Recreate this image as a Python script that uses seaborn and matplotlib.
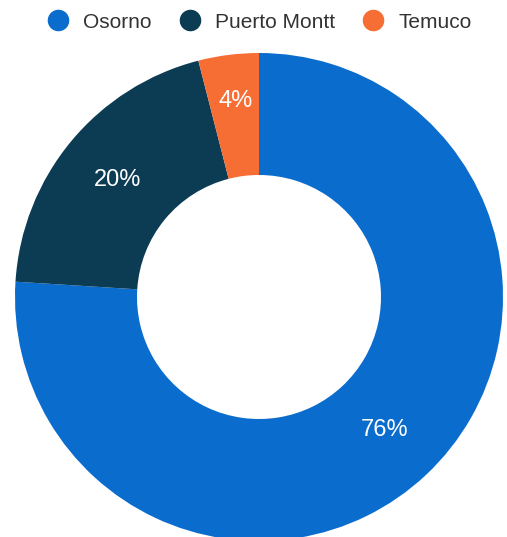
import matplotlib
matplotlib.use("Agg")
import matplotlib.pyplot as plt
from matplotlib.lines import Line2D
import seaborn as sns

categories = ["Osorno", "Puerto Montt", "Temuco"]
values = [76, 20, 4]
colors = ["#0a6ccd", "#0b3c54", "#f76e34"]

sns.set_theme(style="white")
plt.rcParams['font.family'] = ['Liberation Sans', 'DejaVu Sans']

W, H = 507, 537
fig = plt.figure(figsize=(W / 100, H / 100), dpi=100)
cx, cy, r = 259, 297, 244
ax = fig.add_axes([(cx - r) / W, (H - cy - r) / H, 2 * r / W, 2 * r / H])

wedges, texts, autotexts = ax.pie(
    values, colors=colors, startangle=90, counterclock=False, radius=1,
    wedgeprops=dict(width=0.5, edgecolor="none"),
    autopct=lambda p: f"{p:.0f}%", pctdistance=0.75,
    textprops=dict(color="white", fontsize=17),
)
ax.set_xlim(-1, 1)
ax.set_ylim(-1, 1)
ax.set_aspect("equal")
ax.axis("off")
for w in wedges:
    w.set_clip_on(False)

# small slice label sits nearer the outer edge, as in the reference
x4, y4 = autotexts[2].get_position()
autotexts[2].set_position((x4, y4 + 14 / r))

handles = [Line2D([0], [0], marker="o", linestyle="none", markersize=14.5,
                  markerfacecolor=c, markeredgecolor=c) for c in colors]
fig.legend(handles, categories, loc="center", ncol=3,
           bbox_to_anchor=(259.5 / W, 1 - 22 / H), frameon=False,
           fontsize=15, labelcolor="#333333", handletextpad=0.7,
           columnspacing=1.35, handlelength=1.0)

fig.savefig("out.png", dpi=100, facecolor="white")
